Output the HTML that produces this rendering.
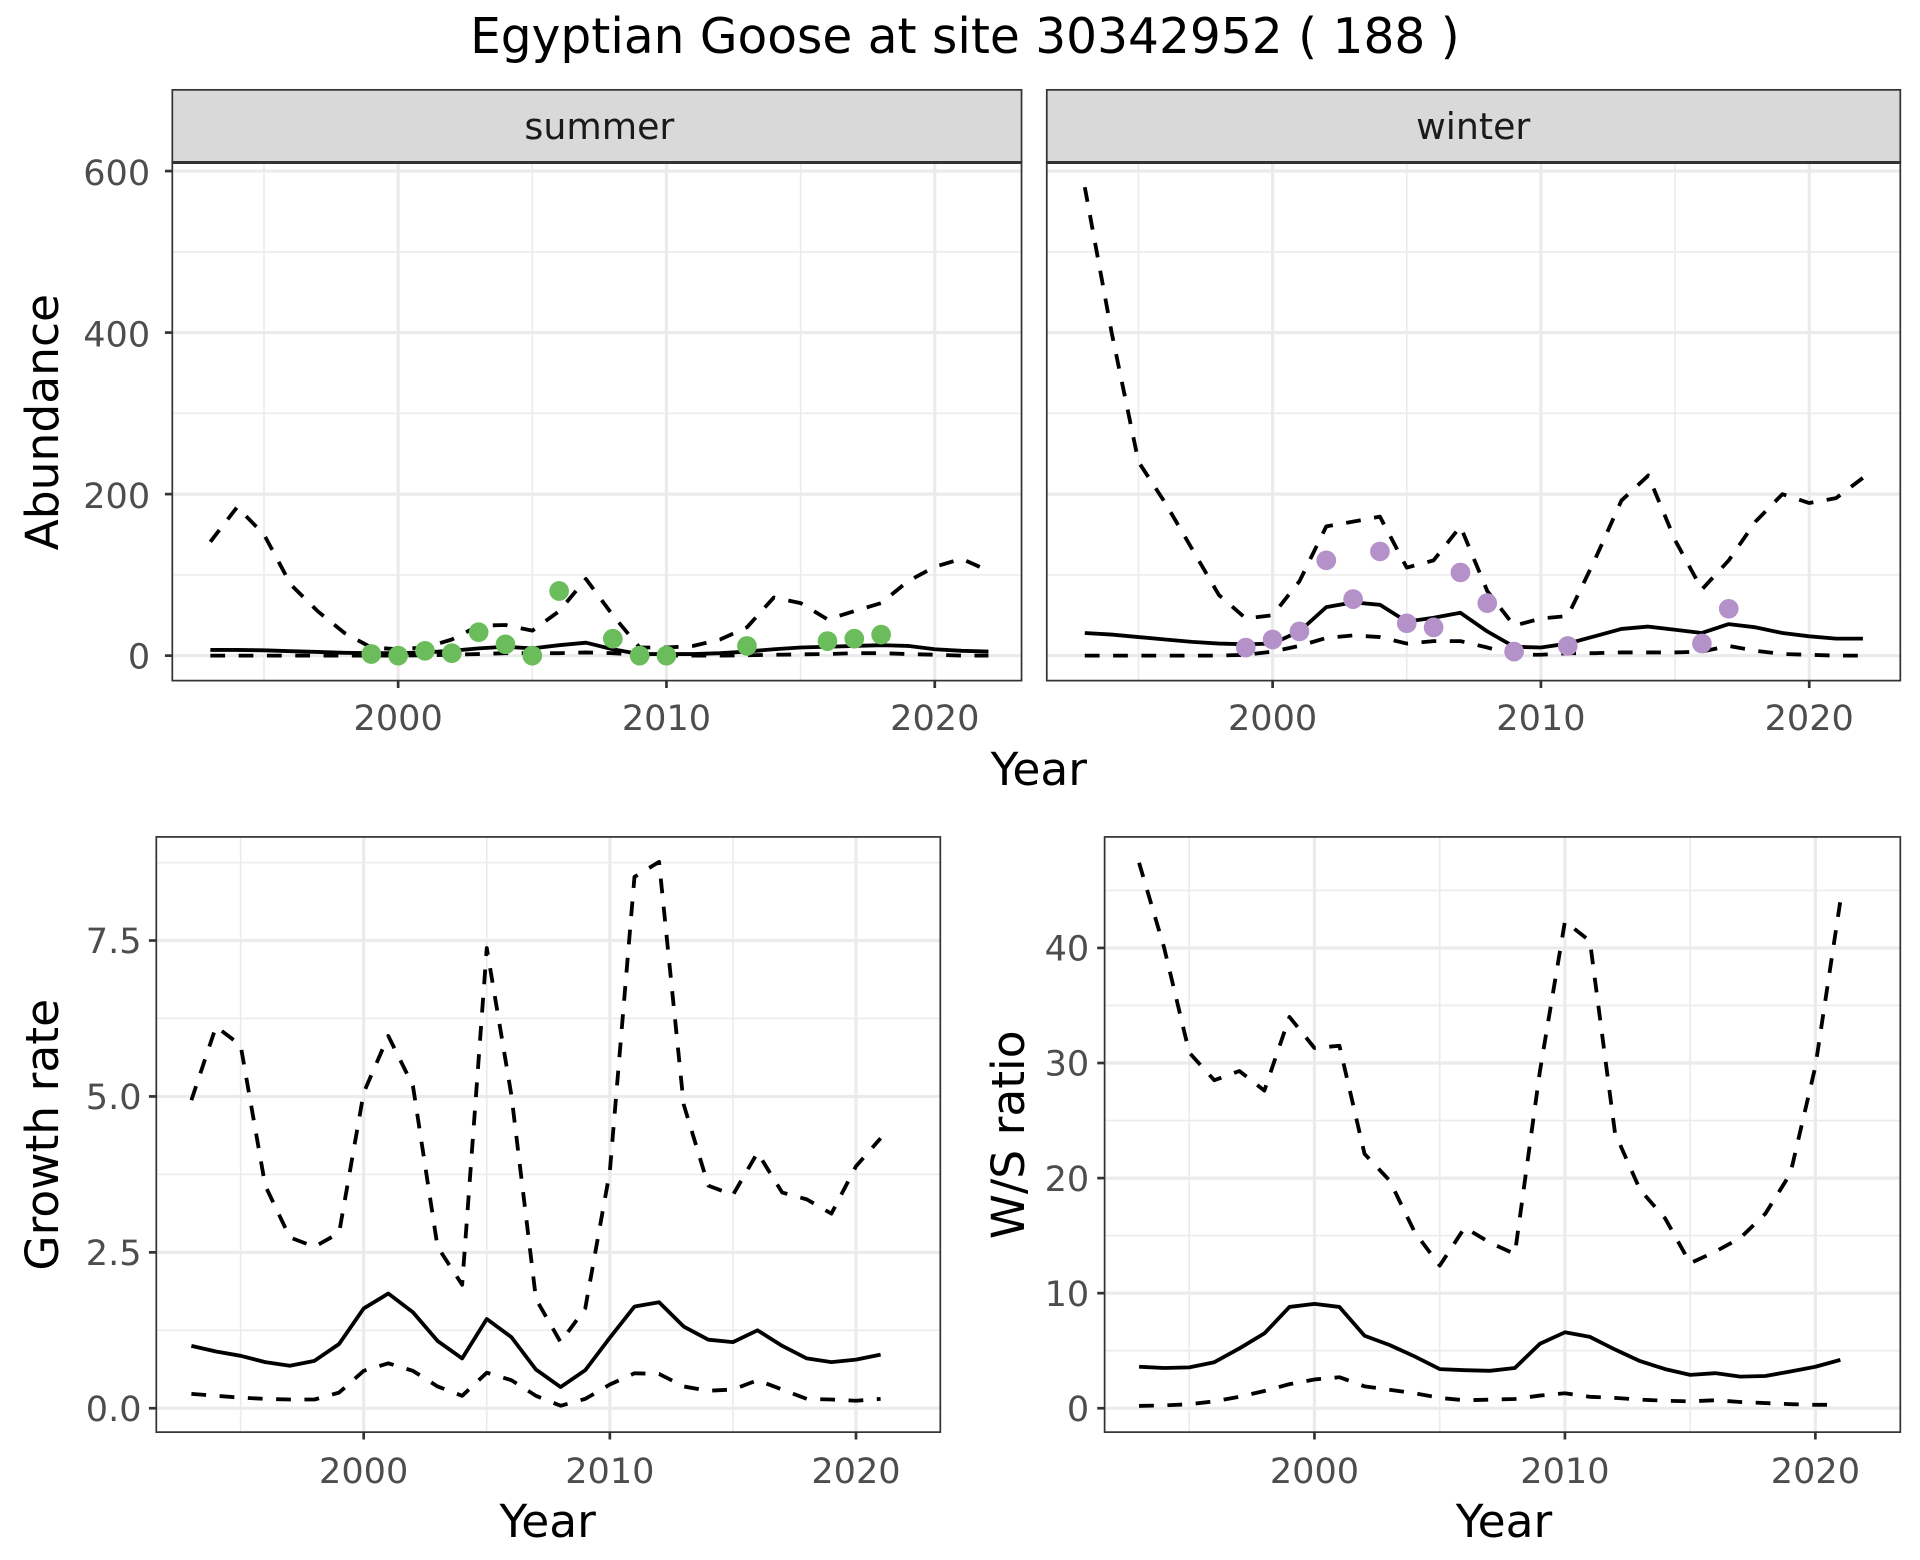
<!DOCTYPE html>
<html><head><meta charset="utf-8"><style>
html,body{margin:0;padding:0;background:#fff;}
svg{display:block;font-family:"DejaVu Sans","Liberation Sans",sans-serif;}
</style></head><body>
<svg id="s" xmlns="http://www.w3.org/2000/svg" width="1920" height="1560" viewBox="0 0 1560 1267.5">
<rect width="1560" height="1267.5" fill="#fff"/>
<g id="g"></g>
<text x="784" y="43" font-size="39.5" text-anchor="middle" fill="#000">Egyptian Goose at site 30342952 ( 188 )</text>
<text x="487" y="113" font-size="29.5" text-anchor="middle" fill="#1a1a1a">summer</text>
<text x="1197" y="113" font-size="29.5" text-anchor="middle" fill="#1a1a1a">winter</text>
<g font-size="28.5" fill="#4d4d4d" text-anchor="end">
<text x="122" y="543">0</text><text x="122" y="412.8">200</text><text x="122" y="281.5">400</text><text x="122" y="150.3">600</text>
<text x="115" y="1154.5">0.0</text><text x="115" y="1027.8">2.5</text><text x="115" y="901.2">5.0</text><text x="115" y="774.5">7.5</text>
<text x="885" y="1154.5">0</text><text x="885" y="1061">10</text><text x="885" y="967.5">20</text><text x="885" y="874">30</text><text x="885" y="780.5">40</text>
</g>
<g font-size="28.5" fill="#4d4d4d" text-anchor="middle">
<text x="323.5" y="593">2000</text><text x="541.5" y="593">2010</text><text x="759.5" y="593">2020</text>
<text x="1034" y="593">2000</text><text x="1252" y="593">2010</text><text x="1470" y="593">2020</text>
<text x="295.5" y="1205">2000</text><text x="495.5" y="1205">2010</text><text x="695.5" y="1205">2020</text>
<text x="1068" y="1205">2000</text><text x="1271.5" y="1205">2010</text><text x="1475" y="1205">2020</text>
</g>
<g font-size="37" fill="#000" text-anchor="middle">
<text x="844" y="638">Year</text>
<text x="445" y="1249">Year</text>
<text x="1222" y="1249">Year</text>
<text transform="translate(47,343) rotate(-90)">Abundance</text>
<text transform="translate(47,922) rotate(-90)">Growth rate</text>
<text transform="translate(832,922) rotate(-90)">W/S ratio</text>
</g>
</svg>
<script>
var g=document.getElementById('g');var NS='http://www.w3.org/2000/svg';
function el(t,a){var e=document.createElementNS(NS,t);for(var k in a)e.setAttribute(k,a[k]);g.appendChild(e);return e;}
function panel(P){
 el('rect',{x:P.x0,y:P.y0,width:P.x1-P.x0,height:P.y1-P.y0,fill:'#fff'});
 P.xmin.forEach(function(v){var x=P.fx(v);el('line',{x1:x,x2:x,y1:P.y0,y2:P.y1,stroke:'#ebebeb','stroke-width':1.3});});
 P.ymin.forEach(function(v){var y=P.fy(v);el('line',{x1:P.x0,x2:P.x1,y1:y,y2:y,stroke:'#ebebeb','stroke-width':1.3});});
 P.xmaj.forEach(function(v){var x=P.fx(v);el('line',{x1:x,x2:x,y1:P.y0,y2:P.y1,stroke:'#ebebeb','stroke-width':2.6});
   el('line',{x1:x,x2:x,y1:P.y1,y2:P.y1+6,stroke:'#333','stroke-width':2.2});});
 P.ymaj.forEach(function(v){var y=P.fy(v);el('line',{x1:P.x0,x2:P.x1,y1:y,y2:y,stroke:'#ebebeb','stroke-width':2.6});
   if(P.yt)el('line',{x1:P.x0-6,x2:P.x0,y1:y,y2:y,stroke:'#333','stroke-width':2.2});});
 P.series.forEach(function(s){var d='';s.v.forEach(function(v,i){d+=(i?'L':'M')+P.fx(s.y0+i).toFixed(1)+','+P.fy(v).toFixed(1);});
   var a={d:d,fill:'none',stroke:'#000','stroke-width':3.1,'stroke-linejoin':'round'};if(s.dash)a['stroke-dasharray']='12,11';el('path',a);});
 (P.pts||[]).forEach(function(p){el('circle',{cx:P.fx(p[0]),cy:P.fy(p[1]),r:8,fill:P.pc});});
 el('rect',{x:P.x0,y:P.y0,width:P.x1-P.x0,height:P.y1-P.y0,fill:'none',stroke:'#333','stroke-width':1.4});
 if(P.strip)el('rect',{x:P.x0,y:73,width:P.x1-P.x0,height:59,fill:'#d9d9d9',stroke:'#333','stroke-width':1.4});
 if(P.strip)el('line',{x1:P.x0,x2:P.x1,y1:132,y2:132,stroke:'#333','stroke-width':2.4});
}
var topY=function(v){return 532.7-v*0.6562;};
panel({x0:140,x1:830,y0:132,y1:553,strip:1,yt:1,fx:function(y){return 323.5+(y-2000)*21.8;},fy:topY,
 xmaj:[2000,2010,2020],xmin:[1995,2005,2015],ymaj:[0,200,400,600],ymin:[100,300,500],pc:'#6abd5a',
 series:[{y0:1993,dash:1,v:[141,184,150,88,55,28,10,8,10,20,37,38,31,55,95,50,10,10,12,20,35,72,65,45,55,65,92,110,120,105]},
 {y0:1993,v:[7,7,6.5,5.5,4.5,3.5,3,3,4,6,9,11,9,13,16,8,2,2,2,3,5,8,10,11,12,13,12,8,6,5]},
 {y0:1993,dash:1,v:[0,0,0,0,0,0,0,0,0.5,1,2,3,3,3,4,3,1,0,0,0,0.5,1,1.5,2,3,3,2,1,0,0]}],
 pts:[[1999,2],[2000,0],[2001,6],[2002,3],[2003,29],[2004,14],[2005,0],[2006,80],[2008,21],[2009,0],[2010,0],[2013,12],[2016,18],[2017,21],[2018,26]]});
panel({x0:850.5,x1:1544,y0:132,y1:553,strip:1,yt:0,fx:function(y){return 1034+(y-2000)*21.8;},fy:topY,
 xmaj:[2000,2010,2020],xmin:[1995,2005,2015],ymaj:[0,200,400,600],ymin:[100,300,500],pc:'#b491c8',
 series:[{y0:1993,dash:1,v:[580,400,240,189,132,75,46,50,92,160,166,172,109,118,160,80,37,46,49,118,192,223,143,82,118,166,200,189,195,220]},
 {y0:1993,v:[28,26,23,20,17,15,14,15,30,60,66,63,42,47,53,30,11,10,15,24,33,36,32,28,39,35,28,24,21,21]},
 {y0:1993,dash:1,v:[0,0,0,0,0,0,1,5,12,22,25,23,15,18,18,10,1,1,3,3,4,4,4,5,12,6,2,1,0,0]}],
 pts:[[1999,10],[2000,20],[2001,30],[2002,118],[2003,70],[2004,129],[2005,40],[2006,35],[2007,103],[2008,65],[2009,5],[2011,12],[2016,15],[2017,58]]});
panel({x0:127,x1:764,y0:680,y1:1163.6,yt:1,fx:function(y){return 295.5+(y-2000)*20;},fy:function(v){return 1144.2-v*50.67;},
 xmaj:[2000,2010,2020],xmin:[1995,2005,2015],ymaj:[0,2.5,5,7.5],ymin:[1.25,3.75,6.25,8.75],
 series:[{y0:1993,dash:1,v:[4.94,6.12,5.82,3.57,2.74,2.59,2.81,5.06,5.97,5.17,2.59,1.98,7.38,5.02,1.75,1.06,1.6,3.8,8.52,8.76,4.87,3.57,3.42,4.1,3.46,3.35,3.12,3.88,4.33]},
 {y0:1993,v:[1.0,0.91,0.84,0.74,0.68,0.76,1.03,1.6,1.84,1.54,1.08,0.8,1.43,1.14,0.62,0.34,0.61,1.13,1.63,1.7,1.31,1.1,1.06,1.25,1.0,0.8,0.74,0.78,0.86]},
 {y0:1993,dash:1,v:[0.23,0.2,0.17,0.15,0.14,0.14,0.25,0.6,0.72,0.6,0.35,0.2,0.57,0.45,0.2,0.04,0.15,0.38,0.56,0.55,0.35,0.28,0.3,0.45,0.3,0.15,0.14,0.12,0.15]}]});
panel({x0:897.5,x1:1544,y0:680,y1:1163.6,yt:1,fx:function(y){return 1068+(y-2000)*20.35;},fy:function(v){return 1144.2-v*9.35;},
 xmaj:[2000,2010,2020],xmin:[1995,2005,2015],ymaj:[0,10,20,30,40],ymin:[5,15,25,35,45],
 series:[{y0:1993,dash:1,v:[47.4,40,30.9,28.5,29.3,27.6,34,31.3,31.5,22.1,19.8,15.3,12.4,15.7,14.4,13.4,29.3,42.3,40.6,23.9,19,16.5,12.6,13.6,14.8,16.9,20.4,29.7,44.1]},
 {y0:1993,v:[3.6,3.5,3.55,4.0,5.2,6.5,8.8,9.07,8.8,6.3,5.5,4.5,3.4,3.3,3.25,3.5,5.6,6.6,6.2,5.1,4.1,3.4,2.9,3.05,2.75,2.8,3.2,3.6,4.2]},
 {y0:1993,dash:1,v:[0.2,0.25,0.35,0.6,1.0,1.5,2.1,2.5,2.7,1.9,1.6,1.3,0.9,0.7,0.75,0.8,1.1,1.3,1.0,0.9,0.75,0.65,0.6,0.7,0.55,0.45,0.35,0.3,0.3]}]});
</script>
</body></html>
